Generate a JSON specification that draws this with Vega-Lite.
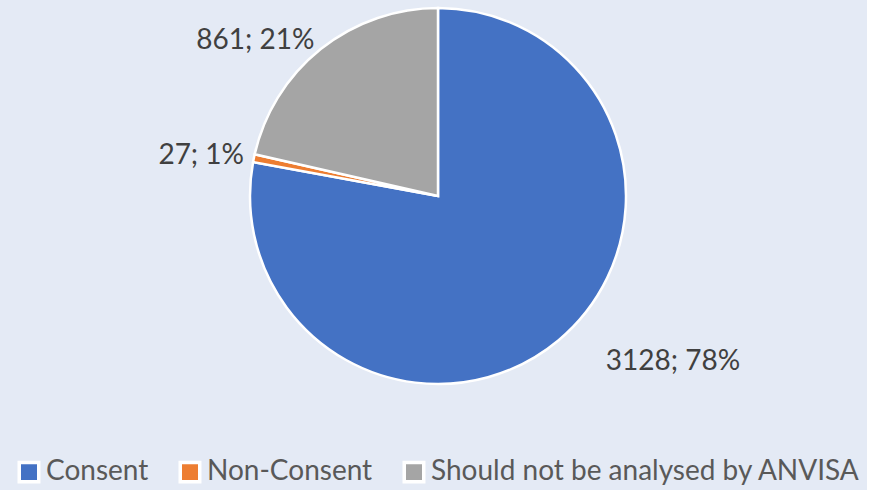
{
  "$schema": "https://vega.github.io/schema/vega-lite/v6.json",
  "width": 858,
  "height": 392,
  "autosize": {"type": "none"},
  "padding": {"left": 9, "top": 0, "right": 0, "bottom": 98},
  "background": "#E4EAF5",
  "view": {"stroke": null},
  "data": {
    "values": [
      {"category": "Consent", "value": 3128, "label": "3128; 78%", "idx": 1},
      {"category": "Non-Consent", "value": 27, "label": "27; 1%", "idx": 2},
      {"category": "Should not be analysed by ANVISA", "value": 861, "label": "861; 21%", "idx": 3}
    ]
  },
  "encoding": {
    "theta": {"field": "value", "type": "quantitative", "stack": true},
    "order": {"field": "idx", "type": "quantitative"}
  },
  "layer": [
    {
      "mark": {"type": "arc", "outerRadius": 188, "stroke": "white", "strokeWidth": 2.5},
      "encoding": {
        "color": {
          "field": "category",
          "type": "nominal",
          "scale": {
            "domain": ["Consent", "Non-Consent", "Should not be analysed by ANVISA"],
            "range": ["#4472C4", "#ED7D31", "#A5A5A5"]
          },
          "legend": {
            "orient": "none",
            "legendX": 6,
            "legendY": 458,
            "direction": "horizontal",
            "title": null,
            "labelFont": "Lato",
            "labelFontSize": 28,
            "labelColor": "#595959",
            "labelLimit": 0,
            "symbolType": "square",
            "symbolSize": 380,
            "symbolStrokeColor": "white",
            "symbolStrokeWidth": 3.5,
            "symbolOpacity": 1,
            "labelOffset": 3,
            "columnPadding": 24
          }
        }
      }
    },
    {
      "mark": {"type": "text", "radius": 236, "thetaOffset": -0.096, "align": "left", "baseline": "middle", "font": "Lato", "fontSize": 28, "color": "#404040"},
      "encoding": {
        "text": {"condition": {"test": "datum.category === 'Consent'", "field": "label"}, "value": ""}
      }
    },
    {
      "mark": {"type": "text", "radius": 198, "align": "right", "baseline": "middle", "font": "Lato", "fontSize": 28, "color": "#404040"},
      "encoding": {
        "text": {"condition": {"test": "datum.category !== 'Consent'", "field": "label"}, "value": ""}
      }
    }
  ]
}
